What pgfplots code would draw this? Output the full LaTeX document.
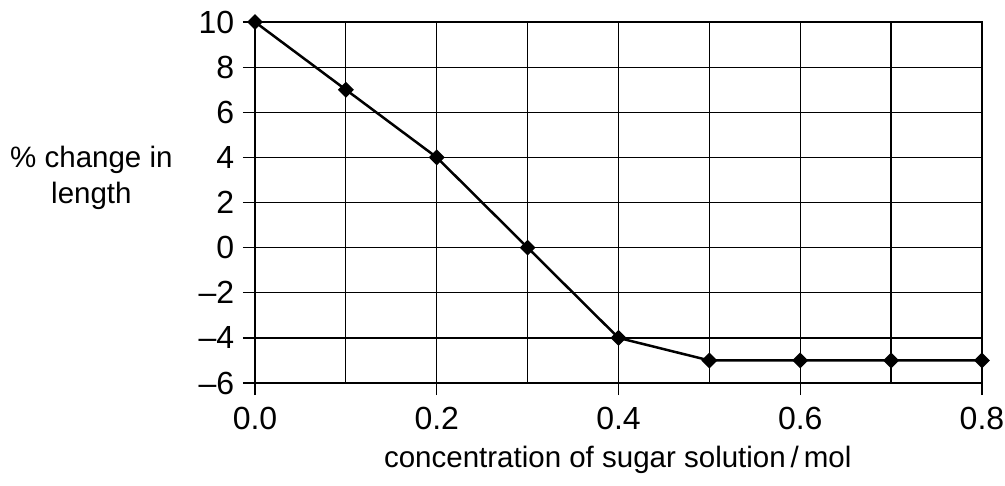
\documentclass[border=0pt]{standalone}
\usepackage{pgfplots}
\pgfplotsset{compat=1.18}
\usepackage{fontspec}
\setmainfont{Liberation Sans}
\begin{document}
\begin{tikzpicture}
\useasboundingbox (-102pt,-40.8pt) rectangle (300pt,153.2pt);
\begin{axis}[
  at={(0,0)}, anchor=south west,
  scale only axis, width=290.8pt, height=144.4pt,
  xmin=0, xmax=0.8, ymin=-6, ymax=10,
  xtick={0,0.2,0.4,0.6,0.8}, xticklabels={0.0,0.2,0.4,0.6,0.8},
  minor xtick={0.1,0.3,0.5,0.7},
  ytick={-6,-4,-2,0,2,4,6,8,10},
  yticklabels={\textendash6,\textendash4,\textendash2,0,2,4,6,8,10},
  grid=both,
  major grid style={black, line width=0.5pt},
  minor grid style={black, line width=0.5pt},
  tick align=outside, major tick length=4.8pt, minor tick length=0pt,
  xtick pos=left, ytick pos=left,
  tick style={black, line width=0.5pt},
  axis line style={black, line width=0.5pt},
  tick label style={font=\fontsize{12.8}{15}\selectfont},
  xticklabel style={yshift=-1.5pt},
  label style={font=\fontsize{11.8}{14.3}\selectfont},
  xlabel={concentration of sugar solution\,/\,mol},
  xlabel style={at={(axis description cs:0.499,-0.213)}, anchor=center},
  ylabel={\% change in\\length},
  ylabel style={rotate=-90, align=center, at={(axis description cs:-0.225,0.568)}, anchor=center},
]
\addplot[black, line width=1pt, mark=square*, mark size=1.75pt, mark options={rotate=45, solid}]
  coordinates {(0,10) (0.1,7) (0.2,4) (0.3,0) (0.4,-4) (0.5,-5) (0.6,-5) (0.7,-5) (0.8,-5)};
\end{axis}
\end{tikzpicture}
\end{document}
